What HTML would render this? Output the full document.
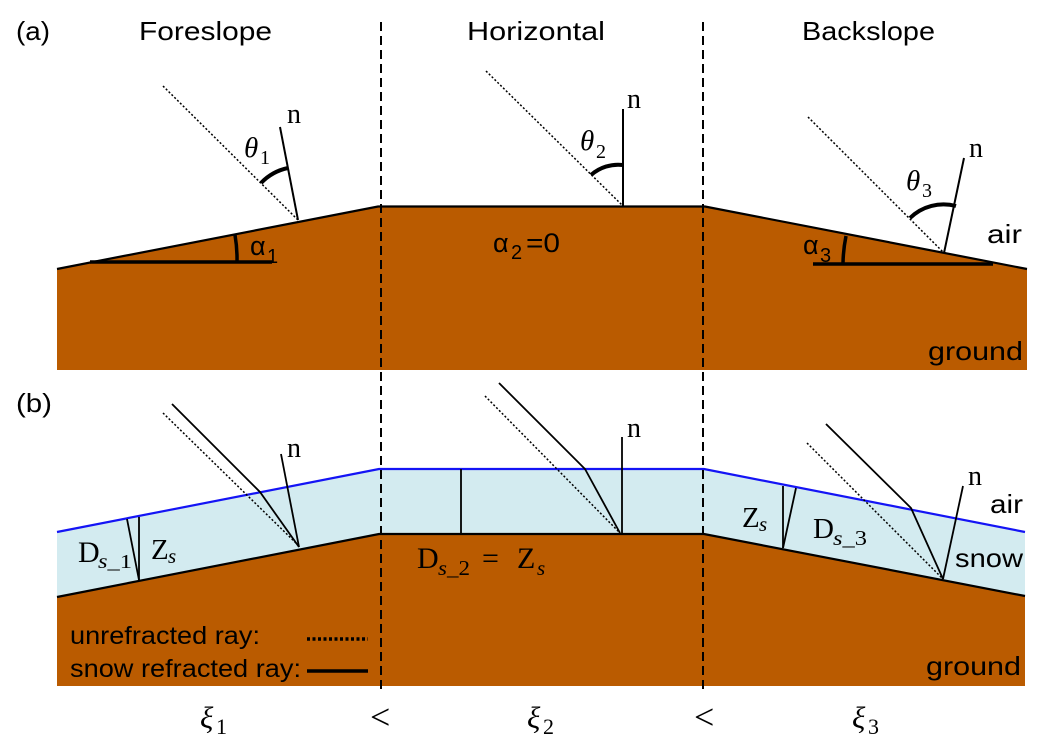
<!DOCTYPE html>
<html>
<head>
<meta charset="utf-8">
<style>
  html,body{margin:0;padding:0;background:#fff;}
  svg{display:block;}
  .sans{font-family:"Liberation Sans","DejaVu Sans",sans-serif;}
  .serif{font-family:"Liberation Serif","DejaVu Serif",serif;}
</style>
</head>
<body>
<svg width="1046" height="749" viewBox="0 0 1046 749" xmlns="http://www.w3.org/2000/svg">
  <rect x="0" y="0" width="1046" height="749" fill="#fff"/>

  <!-- ===== (a) ground ===== -->
  <polygon points="57,269 378,206.5 705,206.5 1027,269 1027,370 57,370" fill="#BA5B00"/>
  <polyline points="57,269 378,206.5 705,206.5 1027,269" fill="none" stroke="#000" stroke-width="2.2"/>

  <!-- ===== (b) snow + ground ===== -->
  <polygon points="57,532 379,469 704,469 1025,532 1025,596 704,534 379,534 57,597" fill="#D3EBF0"/>
  <polygon points="57,597 379,534 704,534 1025,596 1025,686 57,686" fill="#BA5B00"/>
  <polyline points="57,597 379,534 704,534 1025,596" fill="none" stroke="#000" stroke-width="2.2"/>
  <polyline points="57,532 379,469 704,469 1025,532" fill="none" stroke="#1414F5" stroke-width="2.2"/>

  <!-- dashed separators -->
  <line x1="381" y1="22" x2="381" y2="692" stroke="#000" stroke-width="2" stroke-dasharray="9 5"/>
  <line x1="703" y1="22" x2="703" y2="692" stroke="#000" stroke-width="2" stroke-dasharray="9 5"/>

  <!-- ===== (a) rays ===== -->
  <g fill="none" stroke="#000">
    <line x1="163" y1="86" x2="298" y2="220" stroke-width="1.5" stroke-dasharray="2 2"/>
    <line x1="298" y1="220" x2="280" y2="127" stroke-width="2"/>
    <path d="M261,183 A52,52 0 0,1 288,168" stroke-width="4"/>
    <line x1="90" y1="262" x2="272" y2="262" stroke-width="3.5"/>
    <path d="M235,235 A140,140 0 0,1 237,262" stroke-width="3.5"/>

    <line x1="486" y1="71" x2="623" y2="206" stroke-width="1.5" stroke-dasharray="2 2"/>
    <line x1="623" y1="206" x2="623" y2="109" stroke-width="2"/>
    <path d="M591,175 A41,41 0 0,1 623,165" stroke-width="4"/>

    <line x1="808" y1="117" x2="944" y2="253" stroke-width="1.5" stroke-dasharray="2 2"/>
    <line x1="944" y1="253" x2="964" y2="158" stroke-width="2"/>
    <path d="M910,218 A48,48 0 0,1 956,206" stroke-width="4"/>
    <line x1="813" y1="264" x2="993" y2="264" stroke-width="3.5"/>
    <path d="M846,236 A150,150 0 0,0 843,263" stroke-width="3.5"/>
  </g>

  <!-- ===== (b) rays ===== -->
  <g fill="none" stroke="#000">
    <polyline points="172,404 260,492 299,547" stroke-width="1.8"/>
    <line x1="163" y1="413" x2="298" y2="545" stroke-width="1.5" stroke-dasharray="2 2"/>
    <line x1="299" y1="547" x2="281" y2="454" stroke-width="1.8"/>
    <line x1="139" y1="517" x2="139" y2="580" stroke-width="1.8"/>
    <line x1="127" y1="519" x2="139" y2="580" stroke-width="1.8"/>

    <polyline points="499,383 585,469 620,533" stroke-width="1.8"/>
    <line x1="485" y1="396" x2="620" y2="533" stroke-width="1.5" stroke-dasharray="2 2"/>
    <line x1="622" y1="533" x2="622" y2="437" stroke-width="1.8"/>
    <line x1="461" y1="469" x2="461" y2="533" stroke-width="1.8"/>

    <polyline points="826,424 911,508 943,579" stroke-width="1.8"/>
    <line x1="807" y1="443" x2="943" y2="579" stroke-width="1.5" stroke-dasharray="2 2"/>
    <line x1="943" y1="579" x2="963" y2="486" stroke-width="1.8"/>
    <line x1="783" y1="486" x2="783" y2="548" stroke-width="1.8"/>
    <line x1="796" y1="488" x2="783" y2="548" stroke-width="1.8"/>

    <line x1="307" y1="639" x2="368" y2="639" stroke-width="3.5" stroke-dasharray="3 2.5"/>
    <line x1="307" y1="671" x2="368" y2="671" stroke-width="3.5"/>
  </g>

  <!-- ===== sans text ===== -->
  <g class="sans" font-size="26" fill="#000">
    <text x="16" y="40" textLength="34" lengthAdjust="spacingAndGlyphs">(a)</text>
    <text x="139" y="40" textLength="133" lengthAdjust="spacingAndGlyphs">Foreslope</text>
    <text x="467" y="40" textLength="138" lengthAdjust="spacingAndGlyphs">Horizontal</text>
    <text x="802" y="40" textLength="133" lengthAdjust="spacingAndGlyphs">Backslope</text>
    <text x="16" y="412" textLength="36" lengthAdjust="spacingAndGlyphs">(b)</text>
    <text x="987" y="243" textLength="35" lengthAdjust="spacingAndGlyphs">air</text>
    <text x="928" y="360" textLength="95" lengthAdjust="spacingAndGlyphs">ground</text>
    <text x="990" y="513" textLength="33" lengthAdjust="spacingAndGlyphs">air</text>
    <text x="955" y="567" textLength="68" lengthAdjust="spacingAndGlyphs">snow</text>
    <text x="926" y="675" textLength="95" lengthAdjust="spacingAndGlyphs">ground</text>
    <text x="70" y="644" font-size="25" textLength="190" lengthAdjust="spacingAndGlyphs">unrefracted ray:</text>
    <text x="70" y="677" font-size="25" textLength="231" lengthAdjust="spacingAndGlyphs">snow refracted ray:</text>
    <text x="250" y="255" font-size="27">α</text>
    <text x="267" y="263" font-size="20">1</text>
    <text x="493" y="252" font-size="27">α</text>
    <text x="511" y="259" font-size="20">2</text>
    <text x="526" y="252" font-size="27" textLength="34" lengthAdjust="spacingAndGlyphs">=0</text>
    <text x="803" y="254" font-size="27">α</text>
    <text x="820" y="262" font-size="20">3</text>
  </g>

  <!-- ===== serif math text ===== -->
  <g class="serif" fill="#000">
    <text x="287" y="123" font-size="28">n</text>
    <text x="627" y="108" font-size="28">n</text>
    <text x="969" y="157" font-size="28">n</text>
    <text x="287" y="457" font-size="28">n</text>
    <text x="627" y="437" font-size="28">n</text>
    <text x="968" y="485" font-size="28">n</text>

    <text x="244" y="157" font-size="29" font-style="italic">θ</text>
    <text x="260" y="164" font-size="20">1</text>
    <text x="580" y="150" font-size="29" font-style="italic">θ</text>
    <text x="596" y="158" font-size="20">2</text>
    <text x="906" y="190" font-size="29" font-style="italic">θ</text>
    <text x="922" y="197" font-size="20">3</text>

    <text x="78" y="562" font-size="30">D</text>
    <text x="98" y="568" font-size="20" textLength="34" lengthAdjust="spacingAndGlyphs"><tspan font-style="italic">s</tspan>_1</text>
    <text x="151" y="559" font-size="29">Z</text>
    <text x="168" y="563" font-size="21" font-style="italic">s</text>

    <text x="417" y="568" font-size="30">D</text>
    <text x="438" y="575" font-size="21" textLength="32" lengthAdjust="spacingAndGlyphs"><tspan font-style="italic">s</tspan>_2</text>
    <text x="482" y="568" font-size="30">=</text>
    <text x="517" y="568" font-size="30">Z</text>
    <text x="537" y="575" font-size="21" font-style="italic">s</text>

    <text x="742" y="527" font-size="29">Z</text>
    <text x="759" y="531" font-size="21" font-style="italic">s</text>
    <text x="813" y="538" font-size="29">D</text>
    <text x="833" y="545" font-size="21" textLength="34" lengthAdjust="spacingAndGlyphs"><tspan font-style="italic">s</tspan>_3</text>

    <text x="200" y="728" font-size="31" font-style="italic">ξ</text>
    <text x="216" y="734" font-size="22">1</text>
    <text x="370" y="729" font-size="36">&lt;</text>
    <text x="527" y="728" font-size="31" font-style="italic">ξ</text>
    <text x="543" y="734" font-size="22">2</text>
    <text x="694" y="729" font-size="36">&lt;</text>
    <text x="852" y="728" font-size="31" font-style="italic">ξ</text>
    <text x="868" y="734" font-size="22">3</text>
  </g>
</svg>
</body>
</html>
